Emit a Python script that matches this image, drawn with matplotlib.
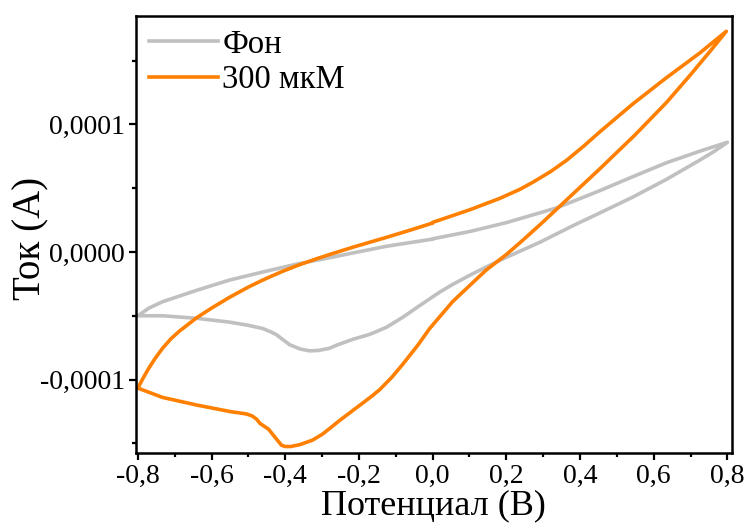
import numpy as np
import matplotlib
matplotlib.use("Agg")
import matplotlib.pyplot as plt
from matplotlib.ticker import MultipleLocator, FuncFormatter

# Potential (V) and current (1e-4 A), in scan order: start at 0 V going anodic,
# back to -0,8 V, then up again to 0 V.
bg_E = [0.003, 0.10, 0.20, 0.336, 0.453, 0.543, 0.635, 0.725, 0.80,
        0.765, 0.725, 0.635, 0.543, 0.453, 0.38, 0.29, 0.19, 0.109, 0.054,
        0.019, -0.035, -0.08, -0.125, -0.17, -0.217, -0.26, -0.28, -0.31,
        -0.334, -0.36, -0.388, -0.405, -0.423, -0.44, -0.461, -0.50,
        -0.551, -0.64, -0.733, -0.80,
        -0.785, -0.77, -0.733, -0.64, -0.551, -0.461, -0.369, -0.28, -0.217,
        -0.125, -0.002]
bg_I = [0.105, 0.16, 0.23, 0.345, 0.48, 0.59, 0.70, 0.79, 0.86,
        0.79, 0.72, 0.57, 0.43, 0.305, 0.205, 0.075, -0.055, -0.17, -0.255,
        -0.315, -0.42, -0.51, -0.59, -0.645, -0.685, -0.73, -0.755, -0.772,
        -0.775, -0.76, -0.727, -0.69, -0.65, -0.625, -0.60, -0.575,
        -0.55, -0.52, -0.50, -0.50,
        -0.47, -0.44, -0.39, -0.30, -0.22, -0.157, -0.095, -0.045, -0.008,
        0.045, 0.10]

s300_E = [0.003, 0.10, 0.182, 0.236, 0.271, 0.32, 0.364, 0.41, 0.453,
          0.543, 0.634, 0.725, 0.797,
          0.752, 0.70, 0.634, 0.55, 0.453, 0.353, 0.29, 0.236, 0.20, 0.146,
          0.12, 0.054, -0.008, -0.04, -0.081, -0.11, -0.144, -0.165, -0.19,
          -0.22, -0.252, -0.28, -0.30, -0.326, -0.36, -0.385, -0.40, -0.41,
          -0.42, -0.434, -0.445, -0.455, -0.468, -0.478, -0.49, -0.505,
          -0.551, -0.64, -0.733, -0.80,
          -0.785, -0.77, -0.752, -0.733, -0.71, -0.687, -0.64, -0.60, -0.551,
          -0.50, -0.461, -0.41, -0.369, -0.32, -0.28, -0.217, -0.125, -0.06,
          -0.002]
s300_I = [0.235, 0.33, 0.42, 0.49, 0.545, 0.63, 0.72, 0.83, 0.94,
          1.16, 1.365, 1.56, 1.73,
          1.57, 1.39, 1.17, 0.92, 0.65, 0.38, 0.21, 0.07, -0.02, -0.14,
          -0.21, -0.39, -0.60, -0.73, -0.88, -0.98, -1.08, -1.13, -1.185,
          -1.25, -1.32, -1.385, -1.43, -1.475, -1.51, -1.525, -1.525, -1.515,
          -1.48, -1.43, -1.39, -1.37, -1.345, -1.31, -1.285, -1.27,
          -1.25, -1.20, -1.14, -1.067,
          -0.985, -0.91, -0.83, -0.755, -0.68, -0.62, -0.515, -0.44, -0.355,
          -0.275, -0.22, -0.155, -0.108, -0.058, -0.02, 0.037, 0.115, 0.172,
          0.225]

labels = ["Фон", "300 мкМ"]
colors = ["#c0c0c0", "#ff8000"]

plt.rcParams["font.family"] = ["Liberation Serif", "DejaVu Serif"]

fig = plt.figure(figsize=(7.46, 5.23), dpi=100)
ax = fig.add_axes([0.1823, 0.1338, 0.7987, 0.8356])

ax.plot(bg_E, np.array(bg_I) * 1e-4, color=colors[0], lw=2.6,
        solid_joinstyle="round", label=labels[0])
ax.plot(s300_E, np.array(s300_I) * 1e-4, color=colors[1], lw=2.6,
        solid_joinstyle="round", label=labels[1])

ax.set_xlim(-0.805, 0.812)
ax.set_ylim(-1.576e-4, 1.85e-4)

ax.xaxis.set_major_locator(MultipleLocator(0.2))
ax.xaxis.set_minor_locator(MultipleLocator(0.1))
ax.yaxis.set_major_locator(MultipleLocator(1e-4))
ax.yaxis.set_minor_locator(MultipleLocator(0.5e-4))
ax.xaxis.set_major_formatter(FuncFormatter(lambda v, p: f"{v:.1f}".replace(".", ",")))
ax.yaxis.set_major_formatter(FuncFormatter(
    lambda v, p: f"{v:.4f}".replace(".", ",").replace("-0,0000", "0,0000")))

for s in ax.spines.values():
    s.set_linewidth(1.8)
ax.tick_params(which="both", direction="out", width=1.6, labelsize=20,
               top=False, right=False)
ax.tick_params(which="major", length=5, pad=3)
ax.tick_params(which="minor", length=3)

ax.set_xlabel("Потенциал (В)", fontsize=26, labelpad=0)
ax.set_ylabel("Ток (А)", fontsize=28)
ax.yaxis.set_label_coords(-0.145, 0.49)

ax.legend(loc="upper left", frameon=False, fontsize=23.5, handlelength=2.1,
          handletextpad=0.15, labelspacing=0.15, borderaxespad=0.2,
          borderpad=0.2)

fig.savefig("out.png", dpi=100)
